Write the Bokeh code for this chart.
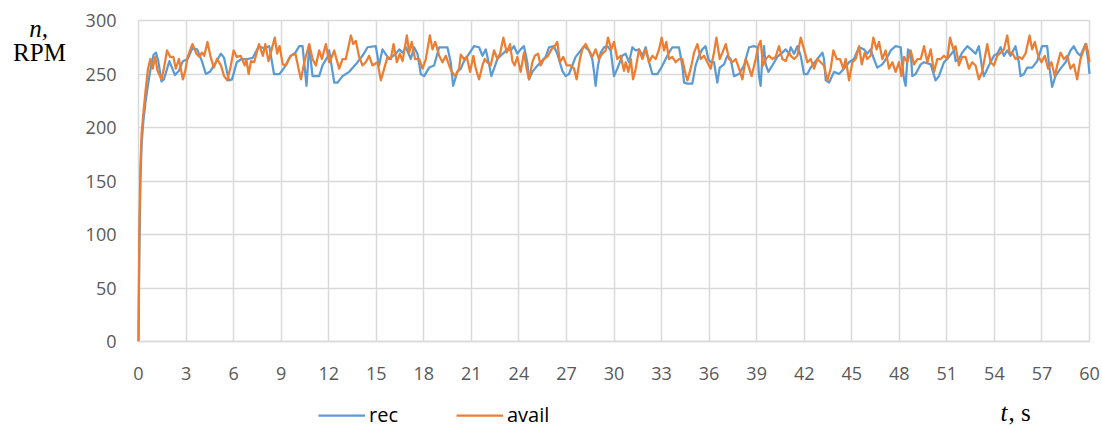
from bokeh.plotting import figure
from bokeh.models import Range1d, SingleIntervalTicker, Label, Legend, LegendItem, Grid
from bokeh.embed import file_html
from bokeh.resources import INLINE

# ---- data ----
t_rec = [0, 0.05, 0.12, 0.2, 0.3, 0.45, 0.6, 0.8, 0.95, 1.1, 1.25, 1.45, 1.6, 1.95, 2.3, 2.55, 2.8, 3.1, 3.4, 3.7,
         4.0, 4.25, 4.5, 4.85, 5.2, 5.4, 5.7, 5.9, 6.2, 6.5, 6.9, 7.2, 7.6, 7.9, 8.25, 8.55, 8.9, 9.2, 9.6, 9.9,
         10.14, 10.35, 10.6, 10.77, 10.98, 11.4, 11.61, 11.93, 12.03, 12.35, 12.56, 12.87, 13.29, 13.71, 14.13,
         14.45, 14.97, 15.18, 15.39, 15.81, 16.24, 16.45, 16.66, 16.87, 17.18, 17.39, 17.6, 17.81, 18.02, 18.34,
         18.65, 18.97, 19.49, 19.7, 19.85, 20.12, 20.33,
         20.54, 20.86, 21.17, 21.49, 21.7, 21.91, 22.12, 22.26, 22.43, 22.64, 22.85, 23.06, 23.27, 23.48, 23.69,
         23.9, 24.11, 24.32, 24.53, 24.64, 24.85, 25.06, 25.37, 25.69, 25.9, 26.21, 26.42, 26.74, 26.95, 27.16,
         27.58, 27.9, 28.11, 28.42, 28.63, 28.74, 28.84, 28.99, 29.16, 29.37, 29.58, 29.79, 30.0, 30.21, 30.52, 30.73,
         30.95, 31.16, 31.37, 31.58, 31.79, 32.0, 32.21, 32.42, 32.74, 32.95, 33.26, 33.47, 33.68, 34.1, 34.31,
         34.42, 34.63, 34.94, 35.15, 35.36, 35.57, 35.78, 35.95, 36.1, 36.31, 36.52, 36.67, 36.94, 37.15, 37.36,
         37.57, 37.89, 38.2, 38.52, 38.83, 39.04, 39.15, 39.25, 39.36, 39.46, 39.57, 39.74, 39.99, 40.3, 40.62,
         40.83, 41.04,
         41.15, 41.36, 41.57, 41.78, 41.99, 42.2, 42.41, 42.83, 43.15, 43.25, 43.36, 43.57, 43.88, 44.2, 44.51,
         44.83, 45.14, 45.46, 45.77, 45.98, 46.19, 46.4, 46.61, 46.93, 47.25, 47.46, 47.77, 48.09, 48.19, 48.3,
         48.4, 48.55, 48.72, 48.82, 49.03, 49.35, 49.56, 49.98, 50.29, 50.5, 50.82, 51.13, 51.45,
         51.55, 51.76, 51.97, 52.29, 52.6, 52.81, 53.02, 53.23, 53.34, 53.65, 53.97, 54.18, 54.39, 54.6, 54.81,
         55.02, 55.33, 55.54, 55.65, 55.86, 56.07, 56.38, 56.7, 57.01, 57.33, 57.43, 57.64, 57.85, 58.17, 58.49,
         58.8, 59.01, 59.22, 59.43, 59.75, 59.91, 60.0]
n_rec = [0, 80, 150, 185, 205, 225, 240, 258, 268, 270, 262, 243, 245, 262, 249, 253, 262, 264, 274, 273,
         262, 250, 252, 260, 269, 265, 244, 245, 261, 264, 264, 265, 276, 274, 276, 250, 250, 256, 267, 270,
         276, 276, 239, 276, 248, 248, 258, 266, 272, 242, 242, 248, 252, 259, 267,
         275, 276, 258, 273, 264, 269, 273, 270, 275, 264, 275, 269, 250, 248, 256,
         258, 275, 275, 261, 239, 252, 255,
         262, 269, 276, 275, 267, 273, 259, 248, 255, 264, 267, 270, 273, 272, 276,
         269, 273, 276, 261, 245, 252, 256, 261, 266, 275, 276, 269, 253, 248, 250,
         266, 272, 276, 272, 264, 252, 239, 258, 270, 275, 276, 272, 248, 255, 267, 269,
         261, 275, 272, 273, 267, 275, 261, 250, 250, 255, 264, 270, 275, 275, 258,
         242, 241, 241, 258, 267, 273, 276, 264, 261, 261, 242, 256, 259, 267, 264,
         248, 250, 258, 275, 276, 275, 248, 239, 264, 276, 259, 252, 258, 266, 270,
         273, 269,
         275, 269, 276, 267, 250, 250, 256, 264, 270, 264, 244, 242, 252, 250, 255,
         261, 264, 275, 273, 269, 273, 264, 256, 259, 266, 272, 276, 275, 258, 245,
         239, 273, 270, 248, 250, 259, 261, 259, 244, 248, 261, 266, 272,
         262, 264, 270, 276, 272, 269, 276, 255, 248, 258, 267, 269, 275, 267, 272,
         267, 276, 261, 248, 250, 256, 256, 262, 276, 276, 261, 238, 248, 255, 261,
         272, 276, 270, 267, 278, 264, 250]

t_avail = [0, 0.05, 0.12, 0.2, 0.3, 0.45, 0.6, 0.75, 0.9, 1.05, 1.2, 1.45, 1.6, 1.8, 2.0, 2.2, 2.35, 2.55, 2.8,
           2.95, 3.1, 3.4, 3.65, 3.85, 4.0, 4.15, 4.35, 4.55, 4.75, 4.95, 5.2, 5.4, 5.6, 5.8, 6.0, 6.2, 6.45,
           6.7, 6.8, 6.95, 7.1, 7.3, 7.6, 7.85, 8.0, 8.2, 8.35, 8.6, 8.75, 8.9, 9.1, 9.3, 9.6, 9.9,
           10.14, 10.25, 10.46, 10.77, 10.98, 11.19, 11.4, 11.57, 11.82, 12.03, 12.14, 12.35, 12.49, 12.66, 12.87,
           13.08, 13.4, 13.55, 13.71, 13.92, 14.13, 14.34, 14.55, 14.76, 15.08, 15.29, 15.5, 15.71, 15.92, 16.09,
           16.3, 16.49, 16.66, 16.93, 17.08, 17.24, 17.45, 17.71, 17.92, 18.13, 18.38, 18.55, 18.72, 18.97, 19.18,
           19.39, 19.6, 19.77, 19.98, 20.23,
           20.33, 20.54, 20.71, 20.92, 21.13, 21.28, 21.49, 21.7, 21.84, 22.01, 22.22, 22.43, 22.64, 22.81, 23.02,
           23.23, 23.44, 23.59, 23.73, 23.9, 24.11, 24.32, 24.49, 24.64, 24.85, 25.0, 25.21, 25.37, 25.58, 25.84,
           26.05, 26.26, 26.42, 26.59, 26.8, 27.01, 27.27, 27.48, 27.64, 27.85, 28.0, 28.21, 28.42, 28.63, 28.84,
           29.05, 29.26, 29.47, 29.62, 29.83, 30.0, 30.21, 30.42, 30.63,
           30.74, 30.91, 31.06, 31.2, 31.37, 31.58, 31.79, 32.0, 32.21, 32.42, 32.63, 32.84, 33.01, 33.16, 33.3,
           33.47, 33.68, 33.89, 34.1, 34.31, 34.48, 34.63, 34.84, 35.05, 35.26, 35.47, 35.68, 35.89, 36.1, 36.31,
           36.46, 36.67, 36.84, 37.05, 37.26, 37.47, 37.68, 37.89, 38.1, 38.31, 38.47, 38.68, 38.94, 39.1, 39.25,
           39.4, 39.57, 39.78, 39.99, 40.2, 40.41, 40.62, 40.83, 41.04,
           41.15, 41.36, 41.57, 41.78, 41.99, 42.2, 42.41, 42.62, 42.83, 43.04, 43.25, 43.46, 43.67, 43.84, 44.05,
           44.26, 44.47, 44.62, 44.83, 45.04, 45.25, 45.46, 45.63, 45.82, 45.98, 46.19, 46.36, 46.57, 46.72, 46.93,
           47.14, 47.35, 47.56, 47.77, 47.98, 48.13, 48.3, 48.51, 48.72, 48.93, 49.14, 49.35, 49.56, 49.77, 49.98,
           50.19, 50.4, 50.61, 50.82, 51.03, 51.2, 51.41,
           51.55, 51.76, 51.97, 52.18, 52.39, 52.6, 52.81, 53.02, 53.23, 53.55, 53.76, 53.97, 54.18, 54.39, 54.6,
           54.81, 54.96, 55.12, 55.33, 55.54, 55.75, 55.96, 56.22, 56.38, 56.55, 56.76, 56.97, 57.18, 57.39, 57.6,
           57.81, 57.96, 58.17, 58.38, 58.59, 58.8, 59.01, 59.22, 59.43, 59.64, 59.79, 59.91, 60.0]
n_avail = [0, 100, 165, 195, 212, 235, 255, 264, 255, 266, 253, 245, 255, 272, 266, 266, 255, 264, 245,
           253, 266, 278, 269, 266, 270, 267, 280, 266, 256, 264, 258, 248, 244, 256, 272, 266, 267,
           258, 264, 250, 262, 261, 278, 267, 278, 262, 270, 284, 269, 276, 259, 258, 267, 269,
           252, 245, 261, 278, 264, 258, 272, 264, 278, 261, 264, 272, 264, 255, 264,
           264, 286, 278, 281, 266, 258, 261, 267, 258, 261, 244, 255, 266, 264, 278,
           261, 269, 262, 286, 270, 280, 264, 264, 255, 264, 286, 273, 280, 267, 261,
           267, 258, 252, 248, 255,
           268, 264, 266, 252, 267, 255, 245, 258, 264, 261, 258, 272, 264, 269, 284,
           270, 278, 262, 258, 266, 252, 270, 255, 245, 261, 267, 269, 258, 264, 267,
           273, 276, 280, 261, 266, 258, 258, 255, 245, 264, 273, 278, 272, 266, 273,
           264, 269, 272, 284, 273, 280, 264, 267, 253,
           261, 252, 264, 245, 255, 273, 264, 273, 261, 267, 264, 273, 284, 272, 280,
           264, 266, 261, 264, 264, 252, 244, 255, 270, 278, 264, 267, 261, 255, 270,
           284, 264, 270, 278, 264, 261, 264, 255, 245, 264, 258, 248, 264, 276, 281,
           258, 264, 267, 264, 266, 276, 264, 262, 270,
           267, 264, 267, 284, 273, 261, 264, 255, 264, 261, 258, 244, 255, 272, 264,
           264, 255, 264, 244, 261, 264, 276, 259, 270, 264, 267, 284, 273, 280, 264,
           272, 255, 261, 252, 261, 248, 266, 261, 272, 259, 264, 264, 276, 261, 273,
           252, 264, 264, 267, 264, 284, 273,
           276, 258, 266, 266, 255, 261, 258, 245, 252, 278, 261, 258, 267, 270, 273,
           286, 270, 270, 264, 266, 264, 269, 286, 273, 280, 267, 261, 267, 255, 261,
           248, 258, 270, 264, 267, 255, 259, 245, 264, 273, 278, 270, 261]

x_bounds = (0, 60)
y_bounds = (0, 300)
x_ticks_interval = 3
y_ticks_interval = 50
series_names = ["rec", "avail"]
series_colors = ["#5B9BD5", "#ED7D31"]

GRID = "#D9D9D9"
TICK = "#595959"

# ---- layout: the plotting frame spans the whole canvas; the data area sits inside it ----
W, H = 1102, 428
AREA_L, AREA_R, AREA_T, AREA_B = 138, 1089, 20, 341
sx = (AREA_R - AREA_L) / (x_bounds[1] - x_bounds[0])
sy = (AREA_B - AREA_T) / (y_bounds[1] - y_bounds[0])
x0 = x_bounds[0] - AREA_L / sx
x1 = x0 + W / sx
y1 = y_bounds[1] + AREA_T / sy
y0 = y1 - H / sy

p = figure(width=W, height=H, output_backend="svg", toolbar_location=None,
           x_range=Range1d(x0, x1), y_range=Range1d(y0, y1),
           min_border=0, min_border_left=0, min_border_right=0, min_border_top=0, min_border_bottom=0)
p.outline_line_color = None
p.background_fill_color = "white"
p.border_fill_color = "white"

has_cross = "cross_bounds" in Grid.properties()
if not has_cross:
    # white masks to confine grid lines to the data area
    mx = 0.6 / sx
    my = 0.6 / sy
    p.quad(left=[x0, x0, x0, x_bounds[1] + mx], right=[x1, x1, x_bounds[0] - mx, x1],
           bottom=[y0, y_bounds[1] + my, y0, y0], top=[y_bounds[0] - my, y1, y1, y1],
           fill_color="white", line_color=None)

r1 = p.line(t_rec, n_rec, line_color=series_colors[0], line_width=2.25, line_join="round")
r2 = p.line(t_avail, n_avail, line_color=series_colors[1], line_width=2.25, line_join="round")

p.xaxis.ticker = SingleIntervalTicker(interval=x_ticks_interval)
p.yaxis.ticker = SingleIntervalTicker(interval=y_ticks_interval)
p.xaxis.fixed_location = 0
p.yaxis.fixed_location = 0
p.xaxis.bounds = x_bounds
p.yaxis.bounds = y_bounds
for ax in (p.xaxis[0], p.yaxis[0]):
    ax.major_tick_line_color = None
    ax.minor_tick_line_color = None
    ax.major_label_text_font = "Open Sans"
    ax.major_label_text_font_size = "18px"
    ax.major_label_text_color = TICK
p.xaxis.axis_line_color = GRID
p.xaxis.axis_line_width = 1.5
p.yaxis.axis_line_color = None
p.xaxis.major_label_standoff = 19
p.yaxis.major_label_standoff = 16

p.xgrid.bounds = x_bounds
p.ygrid.bounds = y_bounds
if has_cross:
    p.xgrid.cross_bounds = y_bounds
    p.ygrid.cross_bounds = x_bounds
p.xgrid.grid_line_color = GRID
p.ygrid.grid_line_color = GRID
p.xgrid.grid_line_width = 1.5
p.ygrid.grid_line_width = 1.5

legend = Legend(items=[LegendItem(label=series_names[0], renderers=[r1]),
                       LegendItem(label=series_names[1], renderers=[r2])],
                orientation="horizontal", location=(318, 0),
                glyph_width=47, glyph_height=20, label_height=20, label_standoff=4, spacing=58,
                padding=0, margin=0, border_line_color=None, background_fill_alpha=0,
                label_text_font="Open Sans", label_text_font_size="20px", label_text_color="#000000")
p.add_layout(legend, "center")

serif = "Liberation Serif"
p.add_layout(Label(x=38, y=H - 28, x_units="screen", y_units="screen", text="n,",
                   text_font=serif, text_font_style="italic", text_font_size="25px",
                   text_color="#000000", text_align="center", text_baseline="alphabetic"))
p.add_layout(Label(x=39, y=H - 52, x_units="screen", y_units="screen", text="RPM",
                   text_font=serif, text_font_size="25px",
                   text_color="#000000", text_align="center", text_baseline="alphabetic"))
p.add_layout(Label(x=1000, y=H - 412, x_units="screen", y_units="screen", text="t",
                   text_font=serif, text_font_style="italic", text_font_size="25px",
                   text_color="#000000", text_align="left", text_baseline="alphabetic"))
p.add_layout(Label(x=1008, y=H - 412, x_units="screen", y_units="screen", text=", s",
                   text_font=serif, text_font_size="25px",
                   text_color="#000000", text_align="left", text_baseline="alphabetic"))

open("out.html", "w").write(file_html(p, INLINE))
